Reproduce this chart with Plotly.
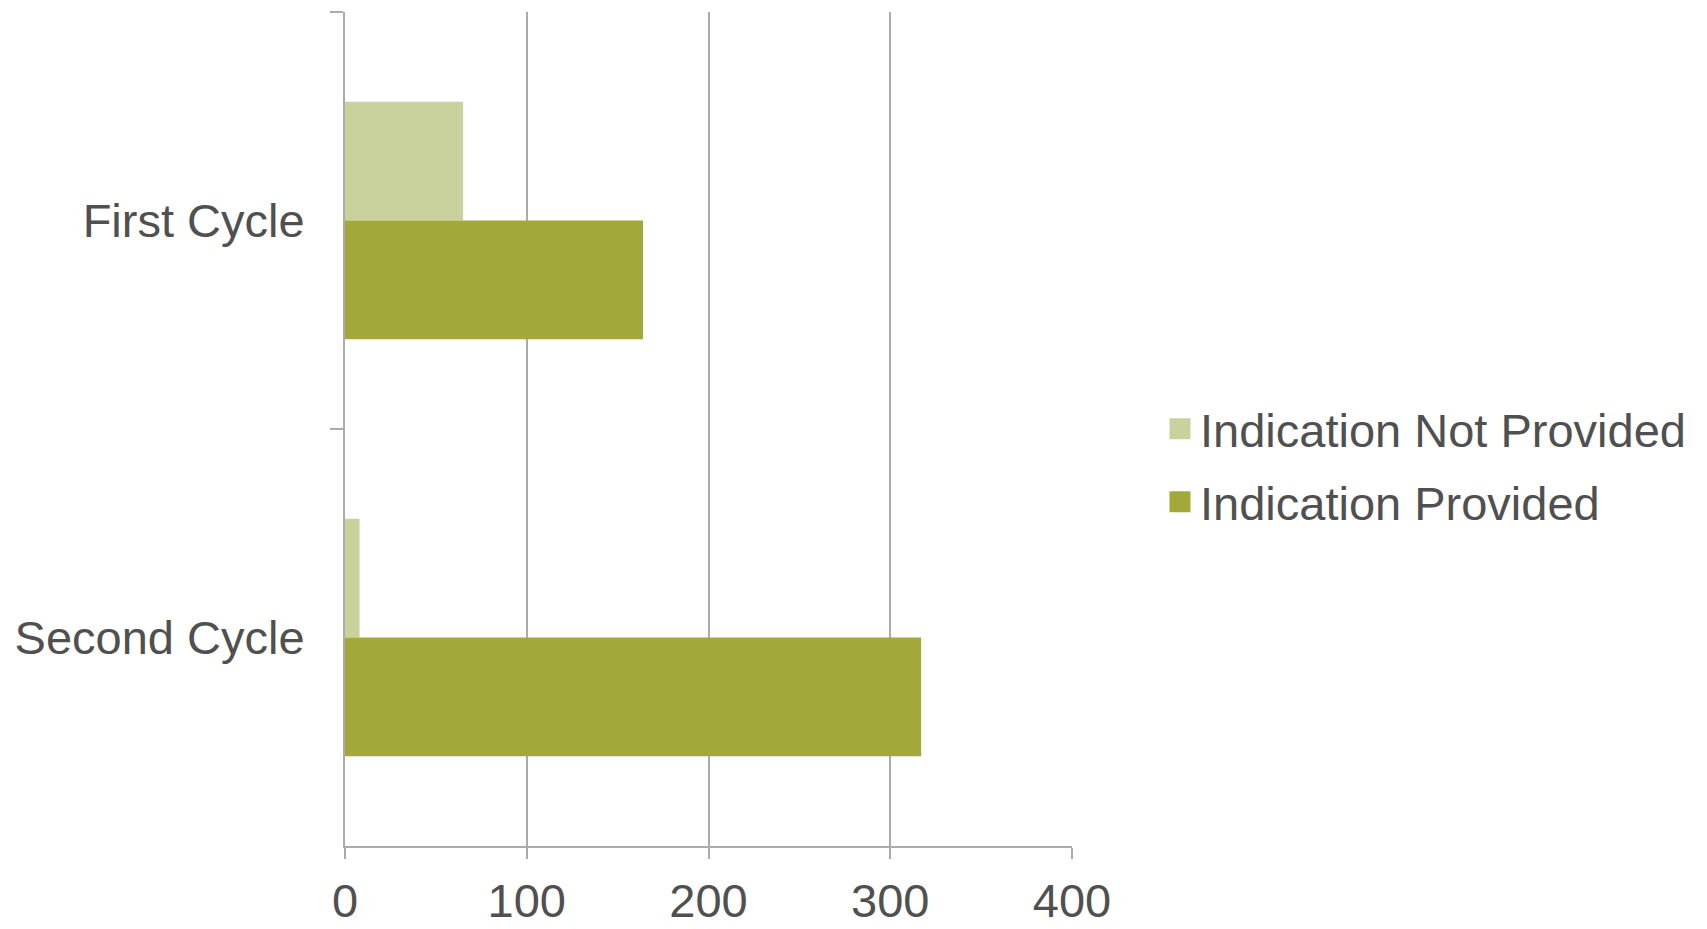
import plotly.graph_objects as go

categories = ["First Cycle", "Second Cycle"]
not_provided = [65, 8]
provided = [164, 317]
x_ticks = [0, 100, 200, 300, 400]
series_names = ["Indication Not Provided", "Indication Provided"]
series_colors = ["#C9D19C", "#A2A93A"]

FONT = "Liberation Sans, Arial, sans-serif"
TXT = "#505050"
GRID = "#ABABAB"

fig = go.Figure()
for name, vals, col in zip(series_names, [not_provided, provided], series_colors):
    fig.add_trace(go.Bar(
        y=categories, x=vals, orientation="h", name=name,
        legendgroup=name, showlegend=False,
        marker=dict(color=col, line=dict(width=0)),
    ))
# legend entries (larger square swatches)
for name, col in zip(series_names, series_colors):
    fig.add_trace(go.Scatter(
        x=[None], y=[None], mode="markers", name=name, legendgroup=name,
        marker=dict(symbol="square", size=16, color=col,
                    line=dict(color=col, width=8)),
    ))

fig.update_layout(
    width=1707, height=929,
    margin=dict(l=345, r=635, t=12, b=83, autoexpand=False),
    paper_bgcolor="white", plot_bgcolor="white",
    barmode="group", bargap=0.43, bargroupgap=0,
    font=dict(family=FONT, size=47, color=TXT),
    legend=dict(
        x=1.121, xanchor="left", y=0.456, yanchor="middle",
        font=dict(family=FONT, size=47, color=TXT),
        traceorder="grouped", tracegroupgap=9, bgcolor="rgba(0,0,0,0)",
    ),
)
fig.update_xaxes(
    range=[0, 400], tickvals=x_ticks, ticktext=[str(v) for v in x_ticks],
    showgrid=True, gridcolor=GRID, gridwidth=2,
    showline=True, linecolor=GRID, linewidth=2,
    ticks="outside", ticklen=11, tickcolor=GRID, tickwidth=2,
    ticklabelstandoff=2, zeroline=False, automargin=False,
    tickfont=dict(family=FONT, size=47, color=TXT),
)
fig.update_yaxes(
    autorange="reversed", type="category",
    showgrid=False, showline=True, linecolor=GRID, linewidth=2,
    ticks="outside", ticklen=13, tickcolor=GRID, tickwidth=2,
    tickson="boundaries", ticklabelstandoff=29, automargin=False,
    tickfont=dict(family=FONT, size=47, color=TXT),
)

fig.write_html("out.html")
